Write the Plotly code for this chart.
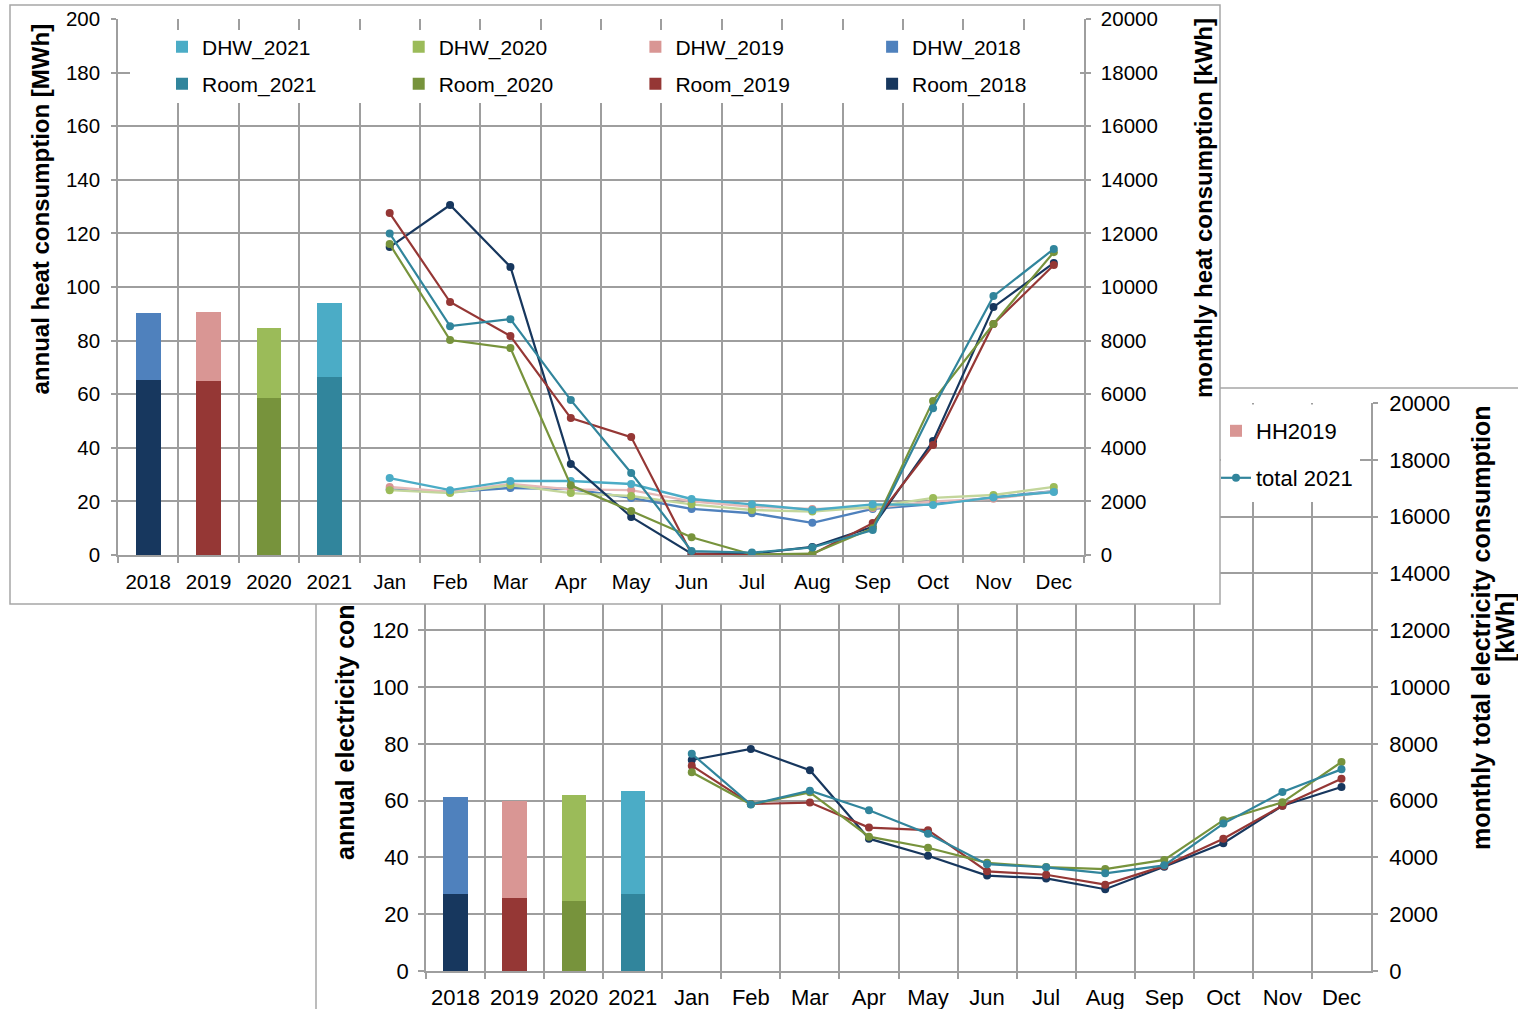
import plotly.graph_objects as go

W, H = 1518, 1009
FONT = "Liberation Sans, Arial, sans-serif"
GRID = "#9E9E9E"
BORDER = "#A6A6A6"

# ---------------- data ----------------
years = ["2018", "2019", "2020", "2021"]
months = ["Jan", "Feb", "Mar", "Apr", "May", "Jun", "Jul", "Aug", "Sep", "Oct", "Nov", "Dec"]
categories = years + months

# top chart: annual heat consumption [MWh]
room_annual = [65.3, 64.9, 58.6, 66.4]
dhw_annual = [25.0, 25.8, 26.1, 27.6]

# top chart: monthly heat consumption [kWh]
room_2018 = [11490, 13060, 10750, 3400, 1420, 50, 50, 300, 1050, 4250, 9250, 10900]
room_2019 = [12760, 9440, 8170, 5110, 4400, 40, 0, 30, 1190, 4100, 8620, 10820]
room_2020 = [11600, 8020, 7720, 2600, 1640, 660, 20, 50, 1000, 5750, 8620, 11300]
room_2021 = [12000, 8540, 8800, 5780, 3060, 150, 90, 280, 930, 5480, 9660, 11420]
dhw_2018 = [2450, 2350, 2500, 2460, 2130, 1720, 1560, 1200, 1720, 1900, 2150, 2380]
dhw_2019 = [2540, 2350, 2650, 2450, 2420, 2000, 1800, 1720, 1750, 2000, 2100, 2380]
dhw_2020 = [2420, 2310, 2610, 2310, 2200, 1890, 1680, 1620, 1790, 2130, 2240, 2540]
dhw_2021 = [2870, 2420, 2760, 2760, 2650, 2090, 1890, 1680, 1890, 1870, 2150, 2350]

# bottom chart: annual electricity consumption [MWh]
elec_base_annual = [27.1, 25.7, 24.6, 27.2]
elec_hh_annual = [34.2, 34.3, 37.4, 36.2]

# bottom chart: monthly total electricity consumption [kWh]
total_2018 = [7430, 7820, 7070, 4660, 4060, 3360, 3260, 2880, 3670, 4500, 5820, 6480]
total_2019 = [7230, 5880, 5930, 5050, 4960, 3510, 3390, 3040, 3700, 4660, 5820, 6770]
total_2020 = [7000, 5870, 6290, 4730, 4340, 3810, 3660, 3590, 3910, 5310, 5940, 7360]
total_2021 = [7650, 5860, 6350, 5660, 4830, 3760, 3650, 3440, 3720, 5190, 6300, 7100]

# left-axis ticks of the lower chart (labels above 120 are hidden behind the upper chart)
elec_tickvals = [0, 20, 40, 60, 80, 100, 120, 140, 160, 180, 200]
elec_ticktext = ["0", "20", "40", "60", "80", "100", "120", "", "", "", ""]

room_monthly = {"2018": room_2018, "2019": room_2019, "2020": room_2020, "2021": room_2021}
dhw_monthly = {"2018": dhw_2018, "2019": dhw_2019, "2020": dhw_2020, "2021": dhw_2021}
total_monthly = {"2018": total_2018, "2019": total_2019, "2020": total_2020, "2021": total_2021}

dark = {"2018": "#17375E", "2019": "#953735", "2020": "#77933C", "2021": "#31859C"}
light = {"2018": "#4F81BD", "2019": "#D99694", "2020": "#9BBB59", "2021": "#4BACC6"}
light_line = {"2018": "#4F81BD", "2019": "#E6B9B8", "2020": "#C3D69B", "2021": "#4BACC6"}


def px(x):
    return x / W


def py(y):
    return 1 - y / H


fig = go.Figure()

# ---------------- bottom chart (x / y, y4) ----------------
for i, yr in enumerate(years):
    fig.add_trace(go.Bar(x=[yr], y=[elec_base_annual[i]], name="base" + yr,
                         marker=dict(color=dark[yr], line=dict(width=0)),
                         xaxis="x", yaxis="y", showlegend=False))
for i, yr in enumerate(years):
    fig.add_trace(go.Bar(x=[yr], y=[elec_hh_annual[i]], name="HH" + yr,
                         marker=dict(color=light[yr], line=dict(width=0)),
                         xaxis="x", yaxis="y", legend="legend2",
                         showlegend=(yr == "2019")))
for yr in years:
    fig.add_trace(go.Scatter(x=months, y=total_monthly[yr], name="total " + yr,
                             mode="lines+markers",
                             line=dict(color=dark[yr], width=2.2),
                             marker=dict(color=dark[yr], size=8),
                             xaxis="x", yaxis="y4", legend="legend4",
                             showlegend=(yr == "2021")))

# ---------------- cover subplot (x2 / y2): white frame of top chart ----------------
fig.add_trace(go.Scatter(x=[None], y=[None], xaxis="x2", yaxis="y2",
                         showlegend=False, hoverinfo="skip"))

# ---------------- top chart (x3 / y3, y5) ----------------
order = ["2021", "2020", "2019", "2018"]
for yr in order:
    i = years.index(yr)
    fig.add_trace(go.Bar(x=[yr], y=[room_annual[i]], name="Room_" + yr,
                         marker=dict(color=dark[yr], line=dict(width=0)),
                         xaxis="x3", yaxis="y3", legend="legend3"))
for yr in order:
    i = years.index(yr)
    fig.add_trace(go.Bar(x=[yr], y=[dhw_annual[i]], name="DHW_" + yr,
                         marker=dict(color=light[yr], line=dict(width=0)),
                         xaxis="x3", yaxis="y3", legend="legend"))
for yr in ["2018", "2019", "2020", "2021"]:
    fig.add_trace(go.Scatter(x=months, y=dhw_monthly[yr], name="DHW_" + yr + " monthly",
                             mode="lines+markers",
                             line=dict(color=light_line[yr], width=2.4),
                             marker=dict(color=light[yr], size=8),
                             xaxis="x3", yaxis="y5", showlegend=False))
for yr in ["2018", "2019", "2020", "2021"]:
    fig.add_trace(go.Scatter(x=months, y=room_monthly[yr], name="Room_" + yr + " monthly",
                             mode="lines+markers",
                             line=dict(color=dark[yr], width=2.2),
                             marker=dict(color=dark[yr], size=8),
                             xaxis="x3", yaxis="y5", showlegend=False))

axis_style = dict(showline=True, linecolor=GRID, linewidth=1.5,
                  showgrid=True, gridcolor=GRID, gridwidth=1.5,
                  ticks="outside", tickcolor=GRID, tickwidth=1.5,
                  zeroline=False, color="#000000")
right_style = {k: v for k, v in axis_style.items() if k != "showgrid"}

cat_axis = dict(type="category", categoryorder="array", categoryarray=categories,
                range=[-0.5, 15.5], tickson="boundaries", ticklen=6, fixedrange=True)

fig.update_layout(
    width=W, height=H,
    margin=dict(l=0, r=0, t=0, b=0, pad=0, autoexpand=False),
    paper_bgcolor="white",
    plot_bgcolor="rgba(0,0,0,0)",
    font=dict(family=FONT, color="#000000", size=21),
    barmode="stack",
    bargap=0.59,
    showlegend=True,
    # bottom chart axes
    xaxis=dict(**axis_style, **cat_axis, domain=[px(426), px(1371)], anchor="y",
               tickfont=dict(size=22), ticklabelstandoff=6),
    yaxis=dict(**axis_style, domain=[py(971), py(403)], anchor="x",
               range=[0, 200], tickvals=elec_tickvals, ticktext=elec_ticktext,
               ticklen=6, tickfont=dict(size=22), ticklabelstandoff=5),
    yaxis4=dict(**right_style, showgrid=False, overlaying="y", side="right", anchor="x",
                range=[0, 20000], dtick=2000, tickformat="d", ticklen=5,
                tickfont=dict(size=22), ticklabelstandoff=7),
    # cover subplot (pixel coordinates)
    xaxis2=dict(domain=[px(9), px(1221)], anchor="y2", range=[9, 1221], visible=False,
                fixedrange=True),
    yaxis2=dict(domain=[py(605), py(4)], anchor="x2", range=[605, 4], visible=False,
                fixedrange=True),
    # top chart axes
    xaxis3=dict(**axis_style, **cat_axis, domain=[px(118), px(1084)], anchor="y3",
                tickfont=dict(size=20.5), ticklabelstandoff=8),
    yaxis3=dict(**axis_style, domain=[py(555), py(19)], anchor="x3",
                range=[0, 200], dtick=20, ticklen=5, tickfont=dict(size=20.5),
                ticklabelstandoff=7),
    yaxis5=dict(**right_style, showgrid=False, overlaying="y3", side="right", anchor="x3",
                range=[0, 20000], dtick=2000, tickformat="d", ticklen=5,
                tickfont=dict(size=20.5), ticklabelstandoff=6),
    legend=dict(orientation="h", x=px(162), xanchor="left", y=py(47), yanchor="middle",
                entrywidth=191.7, entrywidthmode="pixels", bgcolor="rgba(0,0,0,0)",
                font=dict(size=21), traceorder="normal"),
    legend3=dict(orientation="h", x=px(162), xanchor="left", y=py(84), yanchor="middle",
                 entrywidth=191.7, entrywidthmode="pixels", bgcolor="rgba(0,0,0,0)",
                 font=dict(size=21), traceorder="normal"),
    legend2=dict(orientation="v", x=px(1216), xanchor="left", y=py(431), yanchor="middle",
                 bgcolor="rgba(0,0,0,0)", font=dict(size=22)),
    legend4=dict(orientation="v", x=px(1216), xanchor="left", y=py(478), yanchor="middle",
                 bgcolor="rgba(0,0,0,0)", font=dict(size=22)),
    shapes=[
        # bottom chart frame (behind everything)
        dict(type="rect", xref="paper", yref="paper", layer="below",
             x0=px(316), x1=px(1540), y0=py(1040), y1=py(388),
             fillcolor="white", line=dict(color=BORDER, width=1.5)),
        # top chart frame, drawn in the cover subplot above the bottom chart
        dict(type="rect", xref="x2", yref="y2", layer="below",
             x0=10, x1=1220, y0=5, y1=604,
             fillcolor="white", line=dict(color=BORDER, width=1.5)),
        # legend backgrounds
        dict(type="rect", xref="paper", yref="paper", layer="above",
             x0=px(130), x1=px(1080), y0=py(103), y1=py(30),
             fillcolor="white", line=dict(width=0)),
        dict(type="rect", xref="paper", yref="paper", layer="above",
             x0=px(1221), x1=px(1360), y0=py(502), y1=py(404.5),
             fillcolor="white", line=dict(width=0)),
    ],
    annotations=[
        dict(text="<b>annual heat consumption [MWh]</b>", xref="paper", yref="paper",
             x=px(39.5), y=py(209), textangle=-90, showarrow=False,
             xanchor="center", yanchor="middle", font=dict(size=24)),
        dict(text="<b>monthly heat consumption [kWh]</b>", xref="paper", yref="paper",
             x=px(1203), y=py(208), textangle=-90, showarrow=False,
             xanchor="center", yanchor="middle", font=dict(size=24)),
        dict(text="<b>annual electricity con</b>", xref="paper", yref="paper",
             x=px(345), y=py(862), textangle=-90, showarrow=False,
             xanchor="center", yanchor="bottom", font=dict(size=25)),
        dict(text="<b>monthly total electricity consumption</b>", xref="paper", yref="paper",
             x=px(1481), y=py(628), textangle=-90, showarrow=False,
             xanchor="center", yanchor="middle", font=dict(size=25)),
        dict(text="<b>[kWh]</b>", xref="paper", yref="paper",
             x=px(1505), y=py(628), textangle=-90, showarrow=False,
             xanchor="center", yanchor="middle", font=dict(size=25)),
    ],
)

fig.write_html("out.html", config={"displayModeBar": False},
               post_script="document.body.style.margin='0px';")
